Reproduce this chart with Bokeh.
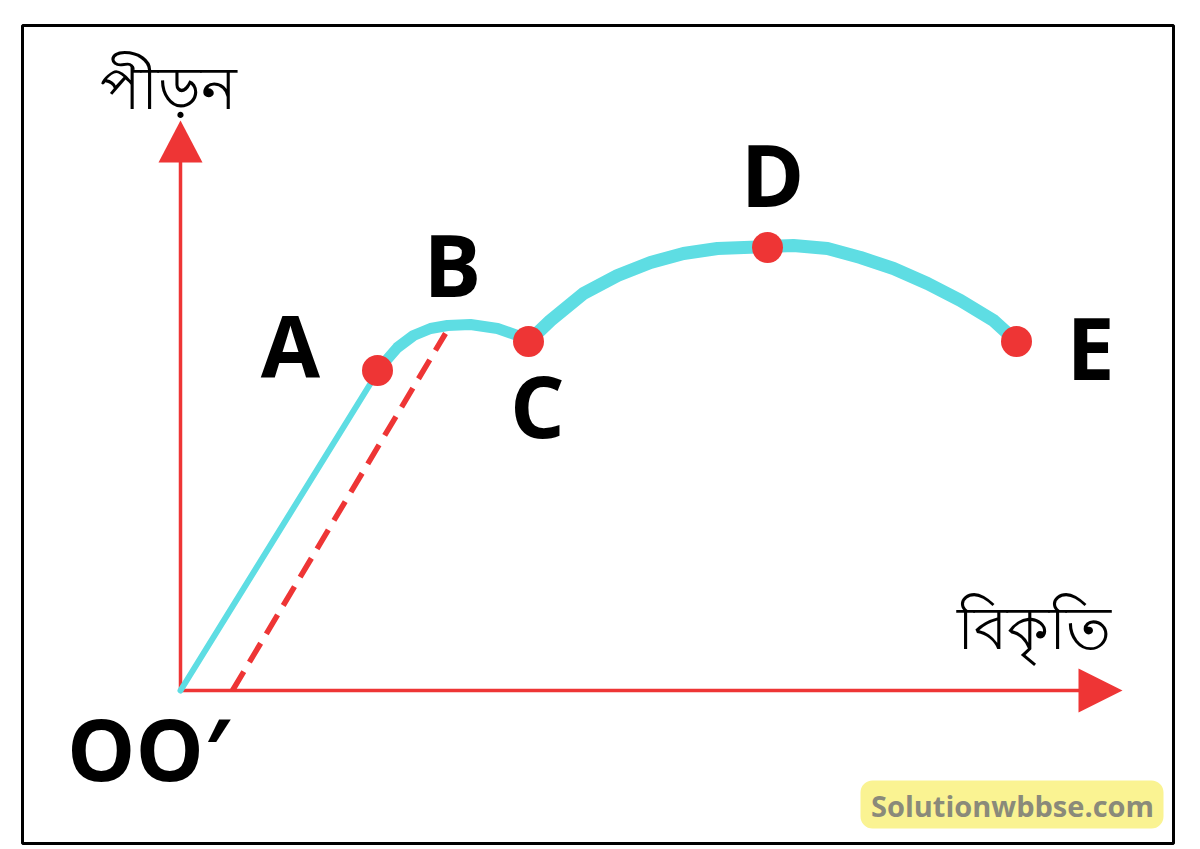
from bokeh.plotting import figure
from bokeh.models import Range1d
from bokeh.core.properties import value
from bokeh.embed import file_html
from bokeh.resources import INLINE

# ---- data (strain, stress in diagram units) ----
curve_strain = [0, 190, 197, 217, 233, 250, 267, 290, 317, 337, 348, 370, 403, 437, 470, 503, 537, 587, 613, 647, 680, 713, 747, 780, 813, 836]
curve_stress = [0, 307, 320, 343, 355, 362, 365, 366, 362, 355, 349, 370, 397, 415, 428, 437, 442, 444, 445, 442, 433, 422, 407, 390, 370, 349]
elastic_end = 2  # index of point A
yield_end = 10   # index of point C

point_labels = ["A", "C", "D", "E"]
point_strain = [197, 348, 587, 836]
point_stress = [320, 349, 443, 349]

offset_strain = [52, 265]
offset_stress = [0, 357]

letter_text = ["A", "B", "C", "D", "E", "OO\u2032"]
letter_x = [110, 272, 357, 592, 910, -32]
letter_y = [346, 427, 286, 517, 344, -57]

x_axis_end = 900
y_axis_end = 530
y_title = "পীড়ন"
x_title = "বিকৃতি"
watermark = "Solutionwbbse.com"

RED = "#EE3535"
CYAN = "#5EDDE3"

p = figure(width=1200, height=849, output_backend="svg", toolbar_location=None,
           x_range=Range1d(-180, 1020), y_range=Range1d(-159, 690),
           min_border=0, outline_line_color=None)
p.axis.visible = False
p.grid.visible = False
p.background_fill_color = "white"
p.border_fill_color = "white"

# frame
p.quad(left=[-158], right=[993], bottom=[-153], top=[665], fill_color=None,
       line_color="black", line_width=3)

# watermark box
p.quad(left=[680], right=[983], bottom=[-138], top=[-90], fill_color="#FAF392",
       line_color=None, border_radius=12)
p.text(x=[832], y=[-115], text=[watermark], text_font=value("Open Sans"),
       text_font_style="bold", text_font_size="29px", text_color="#8A8A7A",
       text_align="center", text_baseline="middle")

# axes
p.line([0, x_axis_end], [0, 0], line_color=RED, line_width=3.5)
p.line([0, 0], [0, y_axis_end], line_color=RED, line_width=3.5)
p.patch([x_axis_end - 2, x_axis_end + 42, x_axis_end - 2], [22, 0, -22], fill_color=RED, line_color=None)
p.patch([-22, 0, 22], [y_axis_end - 2, y_axis_end + 40, y_axis_end - 2], fill_color=RED, line_color=None)

# offset dashed line
p.line(offset_strain, offset_stress, line_color=RED, line_width=5.5, line_dash="22 11")

# curve
p.line(curve_strain[:elastic_end + 1], curve_stress[:elastic_end + 1], line_color=CYAN, line_width=6, line_cap="round")
p.line(curve_strain[elastic_end:yield_end + 1], curve_stress[elastic_end:yield_end + 1], line_color=CYAN, line_width=11, line_cap="round", line_join="round")
p.line(curve_strain[yield_end:], curve_stress[yield_end:], line_color=CYAN, line_width=13, line_cap="round", line_join="round")

# points
p.scatter(point_strain, point_stress, size=31, fill_color=RED, line_color=None)

# letters
p.text(x=letter_x, y=letter_y, text=letter_text, text_font=value("Open Sans"),
       text_font_style="bold", text_font_size="86px", text_color="black",
       text_align="center", text_baseline="middle")

# axis titles
p.text(x=[-12], y=[605], text=[y_title], text_font=value("Noto Sans"),
       text_font_size="60px", text_color="black", text_align="center", text_baseline="middle")
p.text(x=[853], y=[65], text=[x_title], text_font=value("Noto Sans"),
       text_font_size="60px", text_color="black", text_align="center", text_baseline="middle")

open("out.html", "w").write(file_html(p, INLINE))
